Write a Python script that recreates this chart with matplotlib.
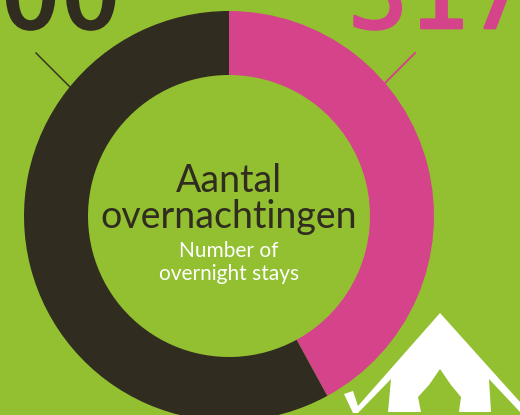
import numpy as np
import matplotlib
matplotlib.use('Agg')
from matplotlib import pyplot as plt
from matplotlib.patches import Polygon
import matplotlib.patheffects as pe

# slices, clockwise from 12 o'clock
names = ['Pink', 'Dark']
values = [317, 437]
colors = ['#D5448A', '#312C20']
label_left = '000'
label_right = '317'

green = '#92C030'
W, H = 520, 415


def py(y):
    # pixel row to data y
    return H - y


fig = plt.figure(figsize=(W / 100, H / 100), dpi=100, facecolor=green)
ax = fig.add_axes([0, 0, 1, 1])

ax.pie(values, colors=colors, startangle=90, counterclock=False,
       center=(229, py(216)), radius=205,
       wedgeprops={'width': 64, 'linewidth': 0})
ax.set_xlim(0, W)
ax.set_ylim(0, H)
ax.set_aspect('equal')
ax.axis('off')

# leader lines
ax.plot([36, 71], [py(53), py(88)], color=colors[1], lw=1.0)
ax.plot([415, 385], [py(53), py(83)], color=colors[0], lw=1.4)

# big numbers, cut off by the top edge
t1 = ax.text(121, py(28), label_left, family='DejaVu Sans Mono', fontsize=72,
             color=colors[1], ha='right', va='baseline')
t2 = ax.text(348, py(28), label_right, family='DejaVu Sans Mono', fontsize=72,
             color=colors[0], ha='left', va='baseline')
t1.set_path_effects([pe.withStroke(linewidth=2.0, foreground=colors[1])])
t2.set_path_effects([pe.withStroke(linewidth=2.0, foreground=colors[0])])

# centre text
ax.text(229, py(192), 'Aantal', family='Lato', fontsize=27, color=colors[1],
        ha='center', va='baseline')
ax.text(229, py(228), 'overnachtingen', family='Lato', fontsize=27,
        color=colors[1], ha='center', va='baseline')
ax.text(229, py(257), 'Number of', family='Lato', fontsize=15, color='white',
        ha='center', va='baseline')
ax.text(229, py(280), 'overnight stays', family='Lato', fontsize=15,
        color='white', ha='center', va='baseline')

# tent
tent = np.array([(344, 394), (353, 391), (358, 406), (440, 313), (520, 402),
                 (520, 412), (489, 379), (491, 412), (459, 412),
                 (461, 397), (451, 385), (440, 369), (429, 385), (418, 397),
                 (421, 412), (388, 412), (391, 379), (358, 413), (353, 413)])
tent[:, 1] = py(tent[:, 1])
ax.add_patch(Polygon(tent, closed=True, facecolor='white', edgecolor='none'))

fig.savefig('out.png', dpi=100, facecolor=green)
